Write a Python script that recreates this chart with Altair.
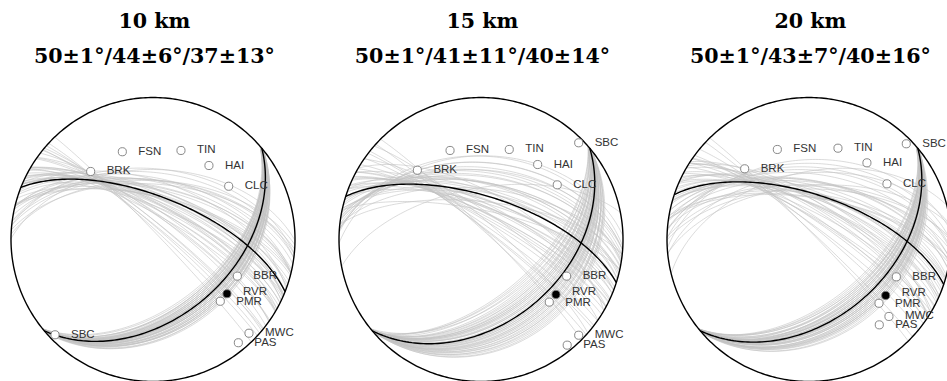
import numpy as np
import pandas as pd
import altair as alt

# ---------------- data ----------------
titles_depth = ["10 km", "15 km", "20 km"]
titles_sdr = ["50±1°/44±6°/37±13°", "50±1°/41±11°/40±14°", "50±1°/43±7°/40±16°"]

# best solutions (strike, dip, rake)
best_strike = [50, 50, 50]
best_dip = [44, 41, 43]
best_rake = [37, 40, 40]

# acceptable solutions (grey)
s1 = [50,49,51,50,50,49,51,50,49,50,51,50,49,51,50,50,49,51,50,50,51,49,50,50,
      49,51,50,50,49,51,50,49,50,51,50,50,49,51,50,50,49,50,51,50,49,50,51,50]
d1 = [44,38,47,41,50,36,45,43,49,39,52,42,46,37,48,40,44,51,35,45,41,47,43,38,
      50,42,46,39,48,44,36,45,41,49,43,47,40,46,38,44,42,50,37,45,48,41,39,43]
r1 = [37,8,48,30,55,12,41,35,60,26,44,33,52,15,39,28,46,58,24,36,31,50,20,43,
      34,57,27,40,17,47,32,53,25,38,45,29,10,22,42,35,19,49,6,33,27,54,14,40]

s2 = [50,51,49,50,50,51,49,50,51,50,49,50,51,49,50,50,51,49,50,50,49,51,50,50,
      51,49,50,50,51,49,50,51,50,49,50,50,51,49,50,50,51,50,49,50,51,50,49,50]
d2 = [41,30,52,36,47,28,55,39,44,33,50,42,25,58,38,46,31,53,35,48,29,43,56,37,
      45,32,51,40,27,49,34,54,44,38,47,30,41,36,50,26,43,39,57,33,46,40,35,48]
r2 = [40,24,55,33,47,10,60,37,44,28,52,35,15,63,31,49,26,57,38,45,12,42,66,30,
      50,20,54,36,18,46,34,61,29,43,39,48,8,25,58,41,22,51,32,65,14,45,27,53]

s3 = [50,49,50,51,50,49,51,50,50,49,51,50,49,50,51,50,49,51,50,50,49,51,50,49,
      50,51,50,49,50,51,50,50,49,51,50,50,49,50,51,50,49,50,51,50,49,51,50,50]
d3 = [43,36,50,40,47,33,52,42,45,37,49,39,35,53,41,46,38,51,44,34,48,42,36,50,
      40,45,32,47,43,39,54,37,46,41,44,49,38,42,45,35,48,40,51,36,43,47,39,44]
r3 = [40,20,58,31,49,15,63,36,44,26,55,33,22,66,29,51,18,60,38,47,24,42,61,28,
      53,35,8,45,39,57,30,48,23,43,52,37,12,70,34,46,5,41,27,56,19,50,32,64]

ens = [(s1, d1, r1), (s2, d2, r2), (s3, d3, r3)]

# stations (projected positions, unit radius)
stations = ["FSN", "TIN", "HAI", "CLC", "BRK", "SBC", "BBR", "RVR", "PMR", "MWC", "PAS"]
polarity = ["open", "open", "open", "open", "open", "open", "open", "filled", "open", "open", "open"]
p1_x = [-0.216, 0.197, 0.394, 0.533, -0.439, -0.690, 0.594, 0.521, 0.474, 0.676, 0.601]
p1_y = [0.618, 0.627, 0.521, 0.375, 0.479, -0.671, -0.258, -0.382, -0.435, -0.660, -0.727]
p2_x = [-0.218, 0.199, 0.399, 0.537, -0.448, 0.688, 0.603, 0.528, 0.481, 0.688, 0.607]
p2_y = [0.627, 0.634, 0.528, 0.385, 0.488, 0.681, -0.258, -0.387, -0.441, -0.674, -0.744]
p3_x = [-0.223, 0.204, 0.408, 0.549, -0.453, 0.685, 0.615, 0.540, 0.493, 0.563, 0.495]
p3_y = [0.634, 0.643, 0.540, 0.392, 0.498, 0.674, -0.263, -0.394, -0.449, -0.542, -0.601]
st_xy = [(p1_x, p1_y), (p2_x, p2_y), (p3_x, p3_y)]


# ---------------- geometry helpers ----------------
def aux_plane(strike, dip, rake):
    f, d, l = np.radians([strike, dip, rake])
    n_ = np.cos(l) * np.cos(f) + np.cos(d) * np.sin(l) * np.sin(f)
    e_ = np.cos(l) * np.sin(f) - np.cos(d) * np.sin(l) * np.cos(f)
    z_ = -np.sin(l) * np.sin(d)
    if z_ > 0:
        n_, e_, z_ = -n_, -e_, -z_
    dip2 = np.degrees(np.arccos(abs(z_)))
    dipdir = np.degrees(np.arctan2(e_, n_))
    return (dipdir - 90.0) % 360.0, dip2


def great_circle(strike, dip, n=121):
    f, d = np.radians([strike, dip])
    t = np.linspace(0, np.pi, n)
    s = np.array([np.cos(f), np.sin(f), 0.0])
    D = np.array([-np.cos(d) * np.sin(f), np.cos(d) * np.cos(f), np.sin(d)])
    v = np.outer(np.cos(t), s) + np.outer(np.sin(t), D)
    p = np.arcsin(np.clip(v[:, 2], -1, 1))
    tr = np.arctan2(v[:, 1], v[:, 0])
    r = np.sqrt(2) * np.sin((np.pi / 2 - p) / 2)
    return r * np.sin(tr), r * np.cos(tr)


def planes_df(strikes, dips, rakes, prefix):
    rows = []
    for k, (s, d, r) in enumerate(zip(strikes, dips, rakes)):
        s2, d2 = aux_plane(s, d, r)
        for j, (ss, dd) in enumerate([(s, d), (s2, d2)]):
            x, y = great_circle(ss, dd)
            for i in range(len(x)):
                rows.append({"id": f"{prefix}{k}_{j}", "i": i, "x": x[i], "y": y[i]})
    return pd.DataFrame(rows)


ang = np.linspace(0, 2 * np.pi, 361)
circle_df = pd.DataFrame({"i": np.arange(361), "x": np.sin(ang), "y": np.cos(ang)})

R = 142.0
H = 381
CY = 239.5
widths = [317, 328, 302]
centers = [153, 164, 164]  # circle centre within each panel, px
ydom = [-(H - CY) / R, CY / R]

panels = []
for k in range(3):
    w, c = widths[k], centers[k]
    xdom = [-c / R, (w - c) / R]
    X = alt.X("x:Q", scale=alt.Scale(domain=xdom, nice=False, zero=False), axis=None)
    Y = alt.Y("y:Q", scale=alt.Scale(domain=ydom, nice=False, zero=False), axis=None)

    grey_df = planes_df(*ens[k], prefix="g")
    best_df = planes_df([best_strike[k]], [best_dip[k]], [best_rake[k]], prefix="b")
    st_df = pd.DataFrame({"name": stations, "pol": polarity,
                          "x": st_xy[k][0], "y": st_xy[k][1]})
    title_df = pd.DataFrame({"x": [0.01, 0.01], "y": [(CY - 28) / R, (CY - 63) / R],
                             "text": [titles_depth[k], titles_sdr[k]]})

    grey = alt.Chart(grey_df).mark_line(clip=True, color="#c2c2c2", strokeWidth=0.7,
                                        opacity=0.85).encode(
        x=X, y=Y, detail="id:N", order="i:Q")
    best = alt.Chart(best_df).mark_line(clip=True, color="black", strokeWidth=1.4).encode(
        x=X, y=Y, detail="id:N", order="i:Q")
    ring = alt.Chart(circle_df).mark_line(clip=True, color="black", strokeWidth=1.4).encode(
        x=X, y=Y, order="i:Q")
    pts = alt.Chart(st_df).mark_point(clip=True, shape="circle", size=66, filled=True,
                                      stroke="#7a7a7a", strokeWidth=0.9, opacity=1).encode(
        x=X, y=Y,
        fill=alt.Fill("pol:N", scale=alt.Scale(domain=["open", "filled"], range=["white", "black"]),
                      legend=None))
    label_style = dict(clip=True, align="left", baseline="middle", dx=16,
                       font="Liberation Sans", fontSize=11.5, color="#333333")
    labels = alt.Chart(st_df).transform_filter(
        "datum.name != 'RVR' && datum.name != 'PMR'").mark_text(**label_style).encode(
        x=X, y=Y, text="name:N")
    label_rvr = alt.Chart(st_df).transform_filter("datum.name == 'RVR'").mark_text(
        dy=-2, **label_style).encode(x=X, y=Y, text="name:N")
    label_pmr = alt.Chart(st_df).transform_filter("datum.name == 'PMR'").mark_text(
        dy=1, **label_style).encode(x=X, y=Y, text="name:N")
    titles = alt.Chart(title_df).mark_text(align="center", baseline="alphabetic",
                                           font="DejaVu Serif", fontWeight="bold",
                                           fontSize=20.6, color="black").encode(
        x=X, y=Y, text="text:N")
    panels.append(alt.layer(grey, best, ring, pts, labels, label_rvr, label_pmr, titles)
                  .properties(width=w, height=H))

chart = alt.hconcat(*panels, spacing=0, bounds="flush").properties(padding=0).configure_view(
    strokeWidth=0)

chart.save("out.html", embed_options={"renderer": "svg", "actions": False})
